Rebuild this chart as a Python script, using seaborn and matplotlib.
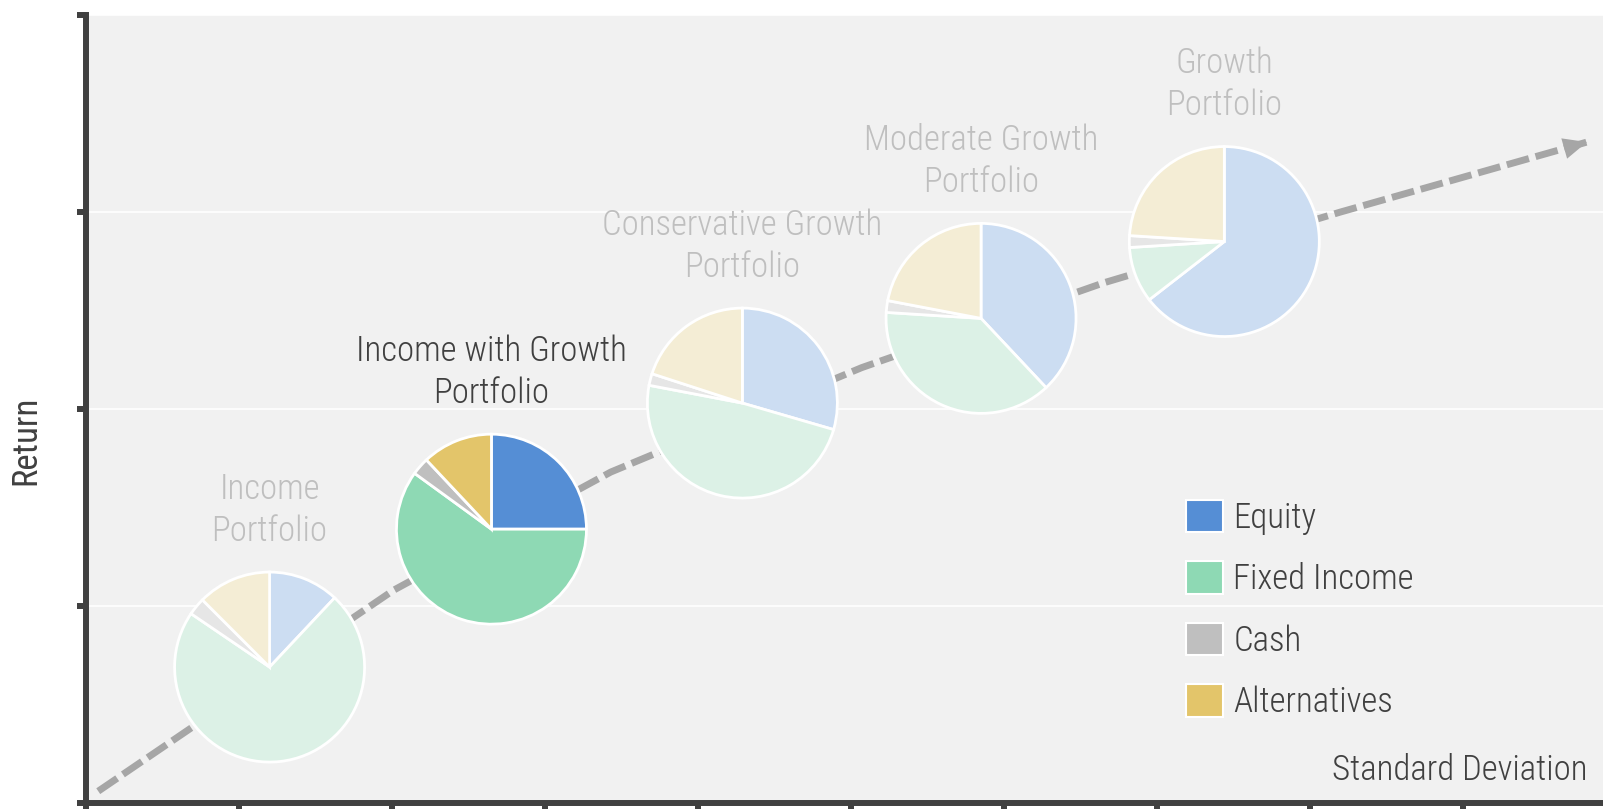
import matplotlib.pyplot as plt
import seaborn as sns
from matplotlib.patches import Patch

# ==========================
# DATA
# ==========================
assets = ["Equity", "Fixed Income", "Cash", "Alternatives"]
portfolios = [
    "Income\nPortfolio",
    "Income with Growth\nPortfolio",
    "Conservative Growth\nPortfolio",
    "Moderate Growth\nPortfolio",
    "Growth\nPortfolio",
]
equity = [12, 25, 29.5, 38, 64.5]
fixed_income = [72.5, 60, 48.5, 38, 9.5]
cash = [3, 3, 2, 2, 2]
alternatives = [12.5, 12, 20, 22, 24]

# position of each portfolio (standard deviation, return)
std_dev = [1.20, 2.65, 4.29, 5.85, 7.44]
returns = [0.69, 1.39, 2.03, 2.46, 2.85]
highlight = "Income with Growth\nPortfolio"

# dashed risk/return line
frontier_x = [0.08, 2.01, 3.43, 5.07, 6.65, 8.20, 9.81]
frontier_y = [0.06, 1.08, 1.68, 2.21, 2.64, 3.00, 3.355]

# ==========================
# STYLE
# ==========================
colors_full = ["#558ED5", "#8ED9B4", "#BFBFBF", "#E3C56A"]
colors_faded = ["#CCDDF2", "#DCF1E6", "#E6E6E6", "#F4EDD5"]
dark = "#404040"
light = "#BFBFBF"
bg = "#F1F1F1"

sns.set_theme(style="white")
plt.rcParams["font.family"] = ["Roboto Condensed", "DejaVu Sans"]
plt.rcParams["font.weight"] = 300
fs = 25

W, H = 1603, 809
fig = plt.figure(figsize=(W / 100, H / 100), dpi=100)
left_px, bottom_px, top_px = 86, 803, 15
ax = fig.add_axes([left_px / W, (H - bottom_px) / H, (W - left_px) / W, (bottom_px - top_px) / H])
ax.set_facecolor(bg)

px_x = 153  # pixels per x unit
px_y = (bottom_px - top_px) / 4
ax.set_xlim(0, (W - left_px) / px_x)
ax.set_ylim(0, 4)
ax.set_xticks(range(10))
ax.set_yticks(range(5))
ax.set_xticklabels([])
ax.set_yticklabels([])
ax.tick_params(axis="both", direction="out", length=6.5, width=4.3, color=dark)
ax.tick_params(axis="x", bottom=True)
ax.tick_params(axis="y", left=True)
for s in ["top", "right"]:
    ax.spines[s].set_visible(False)
for s in ["left", "bottom"]:
    ax.spines[s].set_color(dark)
    ax.spines[s].set_linewidth(4.3)
ax.yaxis.grid(True, color="white", lw=1.2)
ax.xaxis.grid(False)
ax.set_axisbelow(True)

# ==========================
# DASHED LINE + ARROW HEAD
# ==========================
sns.lineplot(x=frontier_x, y=frontier_y, sort=False, ax=ax, color="#A6A6A6",
             lw=5, linestyle=(0, (3.3, 1.0)), dash_capstyle="butt", dash_joinstyle="round", zorder=2)
ax.annotate("", xy=(frontier_x[-1], frontier_y[-1]), xytext=(frontier_x[-2], frontier_y[-2]),
            arrowprops=dict(arrowstyle="-|>,head_length=0.85,head_width=0.38", mutation_scale=20,
                            color="#A6A6A6", lw=0, shrinkA=0, shrinkB=0), zorder=3)

# ==========================
# PIES
# ==========================
r = 95  # pie radius in pixels
rx, ry = r / px_x, r / px_y
for i, name in enumerate(portfolios):
    vals = [equity[i], fixed_income[i], cash[i], alternatives[i]]
    cols = colors_full if name == highlight else colors_faded
    iax = ax.inset_axes([std_dev[i] - rx, returns[i] - ry, 2 * rx, 2 * ry], transform=ax.transData)
    wedges, _ = iax.pie(vals, colors=cols, startangle=90, counterclock=False,
                        wedgeprops=dict(edgecolor="white", linewidth=2))
    for w in wedges:
        w.set_clip_on(False)
    iax.set_xlim(-1, 1)
    iax.set_ylim(-1, 1)
    iax.set_aspect("equal")
    iax.axis("off")
    ax.annotate(name, xy=(std_dev[i], returns[i]), xytext=(0, 157), textcoords="offset pixels",
                ha="center", va="center", fontsize=fs, linespacing=1.33,
                color=dark if name == highlight else light)

# ==========================
# LEGEND + LABELS
# ==========================
handles = [Patch(facecolor=c, edgecolor="white", lw=1.5, label=a) for a, c in zip(assets, colors_full)]
ax.legend(handles=handles, loc="upper left", bbox_to_anchor=(0.725, 0.385), frameon=False,
          prop={"size": fs, "weight": 300}, labelcolor=dark, handlelength=1.07, handleheight=1.07,
          handletextpad=0.3, labelspacing=0.76, borderaxespad=0, borderpad=0)

ax.text(0.990, 0.042, "Standard Deviation", transform=ax.transAxes, ha="right", va="center",
        fontsize=fs, color=dark)
ax.set_xlabel("")
ax.set_ylabel("Return", fontsize=fs, color=dark)
ax.yaxis.set_label_coords(-0.029, 0.46)

fig.savefig("out.png", dpi=100, facecolor="white")
